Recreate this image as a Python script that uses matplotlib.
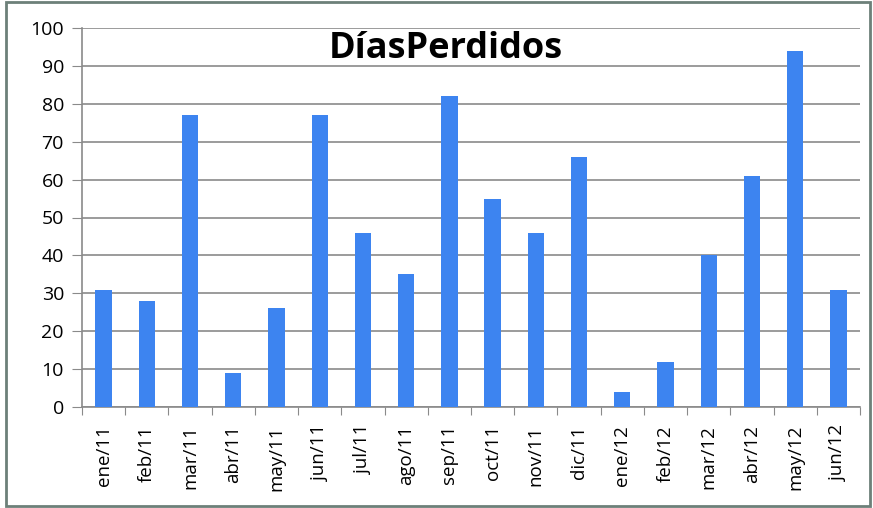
import matplotlib
matplotlib.use("Agg")
import matplotlib.pyplot as plt
from matplotlib.patches import Rectangle
import numpy as np

categories = ["ene/11", "feb/11", "mar/11", "abr/11", "may/11", "jun/11", "jul/11",
              "ago/11", "sep/11", "oct/11", "nov/11", "dic/11", "ene/12", "feb/12",
              "mar/12", "abr/12", "may/12", "jun/12"]
values = [31, 28, 77, 9, 26, 77, 46, 35, 82, 55, 46, 66, 4, 12, 40, 61, 94, 31]
yticks = [0, 10, 20, 30, 40, 50, 60, 70, 80, 90, 100]
title = "DíasPerdidos"

plt.rcParams['font.family'] = ['Open Sans', 'DejaVu Sans']

fig = plt.figure(figsize=(8.73, 5.08), dpi=100)
ax = fig.add_axes([82/873, 1-407/508, (860-82)/873, (407-28)/508])

x = np.arange(len(categories))
ax.bar(x, values, width=0.38, color='#3d84f0', zorder=3)

ax.set_xlim(-0.5, len(categories)-0.5)
ax.set_ylim(0, 100)
ax.set_yticks(yticks)
ax.set_yticklabels([str(v) for v in yticks], fontsize=14)
ax.yaxis.grid(True, color='#8a8a8a', linewidth=1.2, zorder=0)
ax.set_axisbelow(True)

ax.set_xticks(np.arange(len(categories)+1)-0.5)
ax.set_xticklabels([])
ax.set_xticks(x, minor=True)
ax.set_xticklabels(categories, minor=True, rotation=90, fontsize=13.5)
ax.tick_params(axis='x', which='minor', length=0, pad=13)
ax.tick_params(axis='x', which='major', length=6, color='#8a8a8a', direction='out')
ax.tick_params(axis='y', length=7, color='#8a8a8a', pad=6)

for s in ['top', 'right']:
    ax.spines[s].set_visible(False)
for s in ['left', 'bottom']:
    ax.spines[s].set_color('#8a8a8a')
    ax.spines[s].set_linewidth(1.2)

ax.text((446-82)/778, (407-58)/379, title, transform=ax.transAxes, ha='center', va='baseline',
        fontsize=26, fontweight='bold', color='black', zorder=5)

fig.patches.append(Rectangle((6/873, 2/508), 864/873, 504/508, transform=fig.transFigure,
                             fill=False, edgecolor='#6d8079', linewidth=2))

fig.savefig("out.png", dpi=100)
